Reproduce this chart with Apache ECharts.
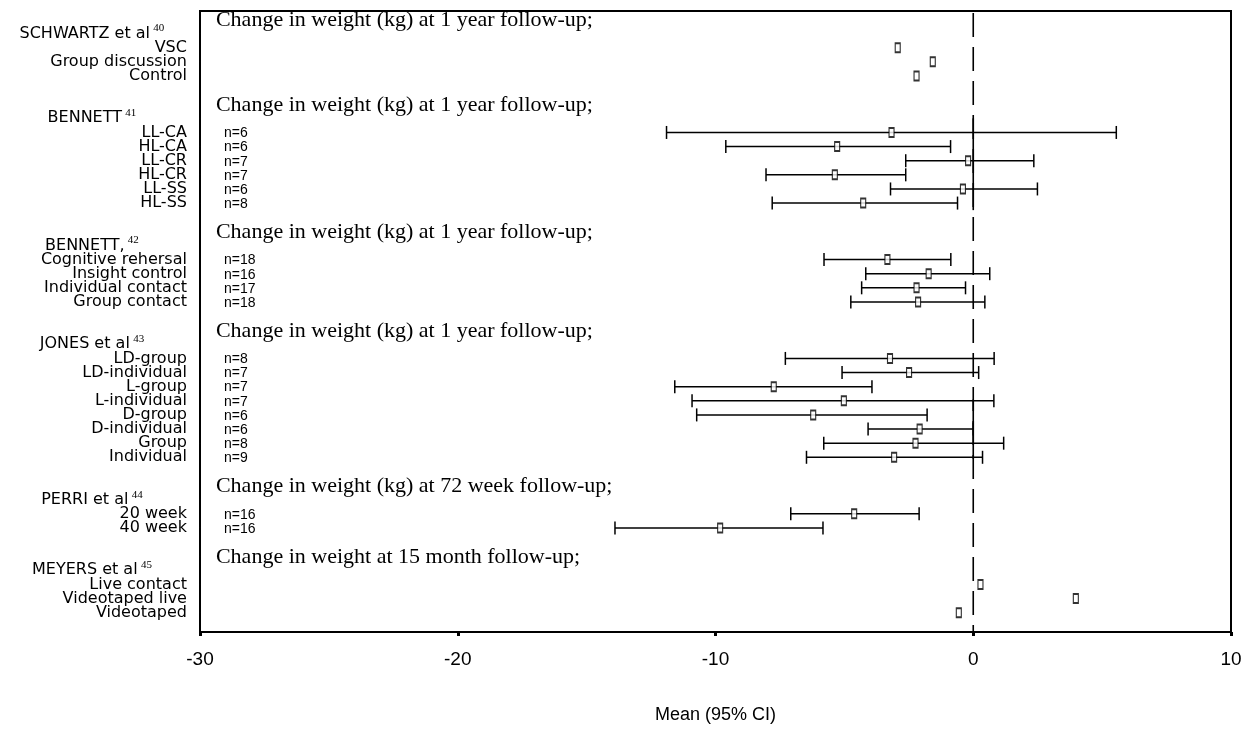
<!DOCTYPE html>
<html><head><meta charset="utf-8">
<script src="https://cdn.jsdelivr.net/npm/echarts@6/dist/echarts.min.js"></script>
<style>html,body{margin:0;padding:0;background:#fff}#chart{width:1255px;height:738px}</style>
</head><body><div id="chart"></div>
<script>
// ---------- data ----------
const xTicks = [-30, -20, -10, 0, 10];
const axisTitle = "Mean (95% CI)";
const studyNames = ["SCHWARTZ et al", "BENNETT", "BENNETT,", "JONES et al", "PERRI et al", "MEYERS et al"];
const studyRefs = ["40", "41", "42", "43", "44", "45"];
const sectionTitles = [
  "Change in weight (kg) at 1 year follow-up;",
  "Change in weight (kg) at 1 year follow-up;",
  "Change in weight (kg) at 1 year follow-up;",
  "Change in weight (kg) at 1 year follow-up;",
  "Change in weight (kg) at 72 week follow-up;",
  "Change in weight at 15 month follow-up;"
];

const schwartzGroups = ["VSC", "Group discussion", "Control"];
const schwartzN = [null, null, null];
const schwartzMean = [-2.93, -1.57, -2.20];
const schwartzLow = [null, null, null];
const schwartzHigh = [null, null, null];

const bennett41Groups = ["LL-CA", "HL-CA", "LL-CR", "HL-CR", "LL-SS", "HL-SS"];
const bennett41N = [6, 6, 7, 7, 6, 8];
const bennett41Mean = [-3.17, -5.28, -0.20, -5.37, -0.40, -4.27];
const bennett41Low = [-11.9, -9.6, -2.62, -8.04, -3.21, -7.8];
const bennett41High = [5.55, -0.88, 2.35, -2.62, 2.49, -0.61];

const bennett42Groups = ["Cognitive rehersal", "Insight control", "Individual contact", "Group contact"];
const bennett42N = [18, 16, 17, 18];
const bennett42Mean = [-3.33, -1.73, -2.20, -2.14];
const bennett42Low = [-5.79, -4.17, -4.33, -4.75];
const bennett42High = [-0.87, 0.64, -0.30, 0.45];

const jonesGroups = ["LD-group", "LD-individual", "L-group", "L-individual", "D-group", "D-individual", "Group", "Individual"];
const jonesN = [8, 7, 7, 7, 6, 6, 8, 9];
const jonesMean = [-3.23, -2.49, -7.74, -5.02, -6.21, -2.08, -2.24, -3.07];
const jonesLow = [-7.29, -5.09, -11.58, -10.91, -10.73, -4.08, -5.80, -6.47];
const jonesHigh = [0.81, 0.21, -3.93, 0.80, -1.79, 0.0, 1.18, 0.36];

const perriGroups = ["20 week", "40 week"];
const perriN = [16, 16];
const perriMean = [-4.62, -9.82];
const perriLow = [-7.08, -13.9];
const perriHigh = [-2.10, -5.83];

const meyersGroups = ["Live contact", "Videotaped live", "Videotaped"];
const meyersN = [null, null, null];
const meyersMean = [0.28, 3.98, -0.56];
const meyersLow = [null, null, null];
const meyersHigh = [null, null, null];

// row spans (in row units) where the zero reference line appears solid
const zeroSolidRowSpans = [[5.0, 11.5], [24.9, 29.1]];

// ---------- build ----------
const sections = [
  {groups: schwartzGroups, n: schwartzN, mean: schwartzMean, low: schwartzLow, high: schwartzHigh},
  {groups: bennett41Groups, n: bennett41N, mean: bennett41Mean, low: bennett41Low, high: bennett41High},
  {groups: bennett42Groups, n: bennett42N, mean: bennett42Mean, low: bennett42Low, high: bennett42High},
  {groups: jonesGroups, n: jonesN, mean: jonesMean, low: jonesLow, high: jonesHigh},
  {groups: perriGroups, n: perriN, mean: perriMean, low: perriLow, high: perriHigh},
  {groups: meyersGroups, n: meyersN, mean: meyersMean, low: meyersLow, high: meyersHigh}
];
const XMIN = xTicks[0], XMAX = xTicks[xTicks.length - 1];
const YMIN = -2.6, YMAX = 41.37;
const titleData = [], headerData = [], groupData = [], nData = [], meanData = [], ciData = [];
let row = -2;
sections.forEach((s, si) => {
  titleData.push({value: [XMIN, row], name: sectionTitles[si]}); row++;
  headerData.push({value: [XMIN, row], name: studyNames[si]}); row++;
  s.groups.forEach((g, i) => {
    groupData.push({value: [XMIN, row], name: g});
    if (s.n[i] != null) nData.push({value: [XMIN, row], name: 'n=' + s.n[i]});
    meanData.push([s.mean[i], row]);
    if (s.low[i] != null) ciData.push([s.low[i], s.high[i], row]);
    row++;
  });
  row++;
});

const INK = '#000';
function labelSeries(data, label) {
  return {type: 'scatter', data, symbolSize: 0.1, clip: false, silent: true,
    itemStyle: {color: '#fff', opacity: 1}, label: Object.assign({show: true, color: INK}, label), z: 5};
}

const chart = echarts.init(document.getElementById('chart'), null, {renderer: 'canvas'});
chart.setOption({
  animation: false,
  backgroundColor: '#fff',
  grid: {left: 200, right: 24, top: 11, bottom: 106, show: true, borderColor: INK, borderWidth: 2, backgroundColor: 'transparent'},
  xAxis: {
    type: 'value', min: XMIN, max: XMAX, interval: 10,
    axisLine: {show: true, onZero: false, lineStyle: {color: INK, width: 2}},
    axisTick: {show: true, length: 4, lineStyle: {color: INK, width: 3}},
    splitLine: {show: false},
    axisLabel: {margin: 18, fontFamily: 'Liberation Sans', fontSize: 19, color: INK},
    name: axisTitle, nameLocation: 'middle', nameGap: 74,
    nameTextStyle: {fontFamily: 'Liberation Sans', fontSize: 18, color: INK}
  },
  yAxis: {type: 'value', inverse: true, min: YMIN, max: YMAX, show: false},
  series: [
    { // zero reference line (dashed)
      type: 'custom', silent: true, z: 1,
      data: [[0]],
      encode: {x: 0},
      renderItem: (params, api) => {
        const a = api.coord([api.value(0), YMIN]);
        const b = api.coord([api.value(0), YMAX]);
        return {type: 'line', shape: {x1: a[0], y1: a[1] + 2, x2: b[0], y2: b[1]},
          style: {stroke: INK, lineWidth: 1.6, lineDash: [24, 10]}};
      }
    },
    { // zero reference line solid parts
      type: 'custom', silent: true, z: 1,
      data: zeroSolidRowSpans.map(s => [0, s[0], s[1]]),
      encode: {x: 0, y: [1, 2]},
      renderItem: (params, api) => {
        const a = api.coord([api.value(0), api.value(1)]);
        const b = api.coord([api.value(0), api.value(2)]);
        return {type: 'line', shape: {x1: a[0], y1: a[1], x2: b[0], y2: b[1]},
          style: {stroke: INK, lineWidth: 1.6}};
      }
    },
    { // confidence intervals
      type: 'custom', silent: true, z: 2,
      data: ciData,
      encode: {x: [0, 1], y: 2},
      renderItem: (params, api) => {
        const y = api.value(2);
        const p1 = api.coord([api.value(0), y]);
        const p2 = api.coord([api.value(1), y]);
        const h = 6.5;
        const st = {stroke: INK, lineWidth: 1.5};
        return {type: 'group', children: [
          {type: 'line', shape: {x1: p1[0], y1: p1[1], x2: p2[0], y2: p2[1]}, style: st},
          {type: 'line', shape: {x1: p1[0], y1: p1[1] - h, x2: p1[0], y2: p1[1] + h}, style: st},
          {type: 'line', shape: {x1: p2[0], y1: p2[1] - h, x2: p2[0], y2: p2[1] + h}, style: st}
        ]};
      }
    },
    { // means
      type: 'scatter', data: meanData, symbol: 'rect', symbolSize: [5, 9], z: 4, silent: true,
      itemStyle: {color: '#fff', borderColor: INK, borderWidth: 1.5}
    },
    labelSeries(titleData, {position: [16, 1], align: 'left', verticalAlign: 'middle',
      formatter: p => p.name, fontFamily: 'Liberation Serif', fontSize: 22}),
    labelSeries(headerData, {position: [-108, 0], align: 'center', verticalAlign: 'middle',
      formatter: p => '{a|' + p.name + '} {s|' + studyRefs[p.dataIndex] + '}',
      rich: {a: {fontFamily: 'DejaVu Sans', fontSize: 16, color: INK},
             s: {fontFamily: 'Liberation Serif', fontSize: 11, color: INK, padding: [0, 0, 10, 0]}}}),
    labelSeries(groupData, {position: [-13, 0], align: 'right', verticalAlign: 'middle',
      formatter: p => p.name, fontFamily: 'DejaVu Sans', fontSize: 16}),
    labelSeries(nData, {position: [24, 1], align: 'left', verticalAlign: 'middle',
      formatter: p => p.name, fontFamily: 'Liberation Sans', fontSize: 14})
  ]
});
</script></body></html>
